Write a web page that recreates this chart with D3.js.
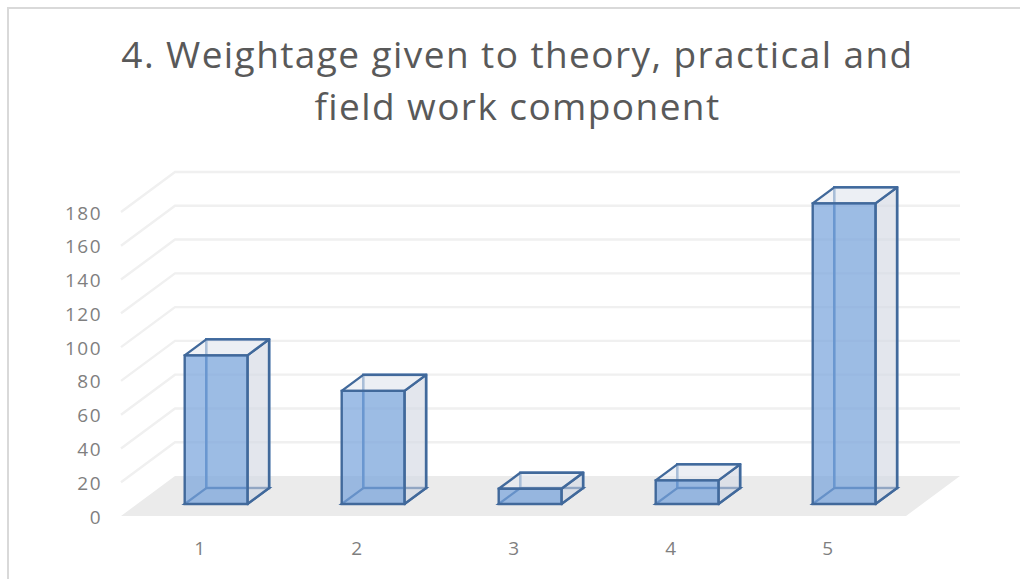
<!DOCTYPE html>
<html>
<head>
<meta charset="utf-8">
<script src="https://d3js.org/d3.v7.min.js"></script>
<style>
html, body { margin: 0; padding: 0; background: #fff; }
svg { display: block; }
text { font-family: "Open Sans", sans-serif; }
</style>
</head>
<body>
<svg width="1020" height="579"></svg>
<script>
var categories = [1, 2, 3, 4, 5];
var values = [88, 67, 9, 14, 178];
var tickValues = [0, 20, 40, 60, 80, 100, 120, 140, 160, 180];
var titleLines = ["4. Weightage given to theory, practical and", "field work component"];

var svg = d3.select("svg");

var x = d3.scaleBand().domain(categories).range([121, 906]).paddingInner(0.6).paddingOuter(0.3);
var y = d3.scaleLinear().domain([0, 180]).range([516, 212]);

// depth offset of the back wall, 3d look is a plain oblique projection
var depthX = 54, depthY = -40;
var barFront = 0.3, barBack = 0.7;
function pt(px, val, z) { return [px + z * depthX, y(val) + z * depthY]; }
var line = d3.line();
function poly(points) { return line(points) + "Z"; }

svg.append("path").attr("d", "M8,579V8H1020").attr("fill", "none").attr("stroke", "#d9d9d9").attr("stroke-width", 2);

// title
svg.append("g").selectAll("text").data(titleLines).join("text")
    .attr("x", 517.5)
    .attr("y", (d, i) => 68 + i * 52)
    .attr("text-anchor", "middle")
    .attr("fill", "#595959")
    .attr("font-size", 37)
    .attr("letter-spacing", 1.42)
    .text(d => d);

// walls
var x0 = x.range()[0], x1 = x.range()[1];
var grid = svg.append("g").attr("fill", "none").attr("stroke", "#f0f0f0").attr("stroke-width", 2.4);
grid.selectAll("path").data(tickValues.slice(1)).join("path")
    .attr("d", d => line([pt(x0, d, 0), pt(x0, d, 1), pt(x1, d, 1)]));
svg.append("path")
    .attr("d", poly([pt(x0, 0, 0), pt(x0, 0, 1), pt(x1, 0, 1), pt(x1, 0, 0)]))
    .attr("fill", "#ebebeb");

// bars
var bars = svg.append("g").selectAll("g").data(values).join("g");
function faces(v, i) {
    var l = x(categories[i]) + 0.4, r = l + x.bandwidth();
    return {
        back: poly([pt(l, v, barBack), pt(r, v, barBack), pt(r, 0, barBack), pt(l, 0, barBack)]),
        bottom: poly([pt(l, 0, barFront), pt(r, 0, barFront), pt(r, 0, barBack), pt(l, 0, barBack)]),
        side: poly([pt(r, v, barFront), pt(r, v, barBack), pt(r, 0, barBack), pt(r, 0, barFront)]),
        top: poly([pt(l, v, barFront), pt(r, v, barFront), pt(r, v, barBack), pt(l, v, barBack)]),
        front: poly([pt(l, v, barFront), pt(r, v, barFront), pt(r, 0, barFront), pt(l, 0, barFront)])
    };
}
bars.append("path").attr("d", (d, i) => faces(d, i).back).attr("fill", "#dfe3ec").attr("fill-opacity", 0.3).attr("stroke", "#4f7db5").attr("stroke-width", 2.6);
bars.append("path").attr("d", (d, i) => faces(d, i).bottom).attr("fill", "#c9d3e2").attr("fill-opacity", 0.3).attr("stroke", "#41699b").attr("stroke-width", 2.2);
bars.append("path").attr("d", (d, i) => faces(d, i).side).attr("fill", "#d3d9e3").attr("fill-opacity", 0.55).attr("stroke", "#41699b").attr("stroke-width", 2.4).attr("stroke-linejoin", "round");
bars.append("path").attr("d", (d, i) => faces(d, i).top).attr("fill", "#e6e9f0").attr("fill-opacity", 0.6).attr("stroke", "#41699b").attr("stroke-width", 2.4).attr("stroke-linejoin", "round");
bars.append("path").attr("d", (d, i) => faces(d, i).front).attr("fill", "#76a2db").attr("fill-opacity", 0.7).attr("stroke", "#41699b").attr("stroke-width", 2.4);

// axes, only the labels are visible
var yAxis = svg.append("g").attr("transform", "translate(121,1)").call(d3.axisLeft(y).tickValues(tickValues).tickSize(0).tickPadding(19));
var xAxis = svg.append("g").attr("transform", "translate(1,516)").call(d3.axisBottom(x).tickSize(0).tickPadding(26));
yAxis.select(".domain").remove();
xAxis.select(".domain").remove();
svg.selectAll(".tick text").attr("font-family", "'Open Sans', sans-serif").attr("font-size", 19).attr("letter-spacing", 1.5).attr("fill", "#7f7f7f");
</script>
</body>
</html>
